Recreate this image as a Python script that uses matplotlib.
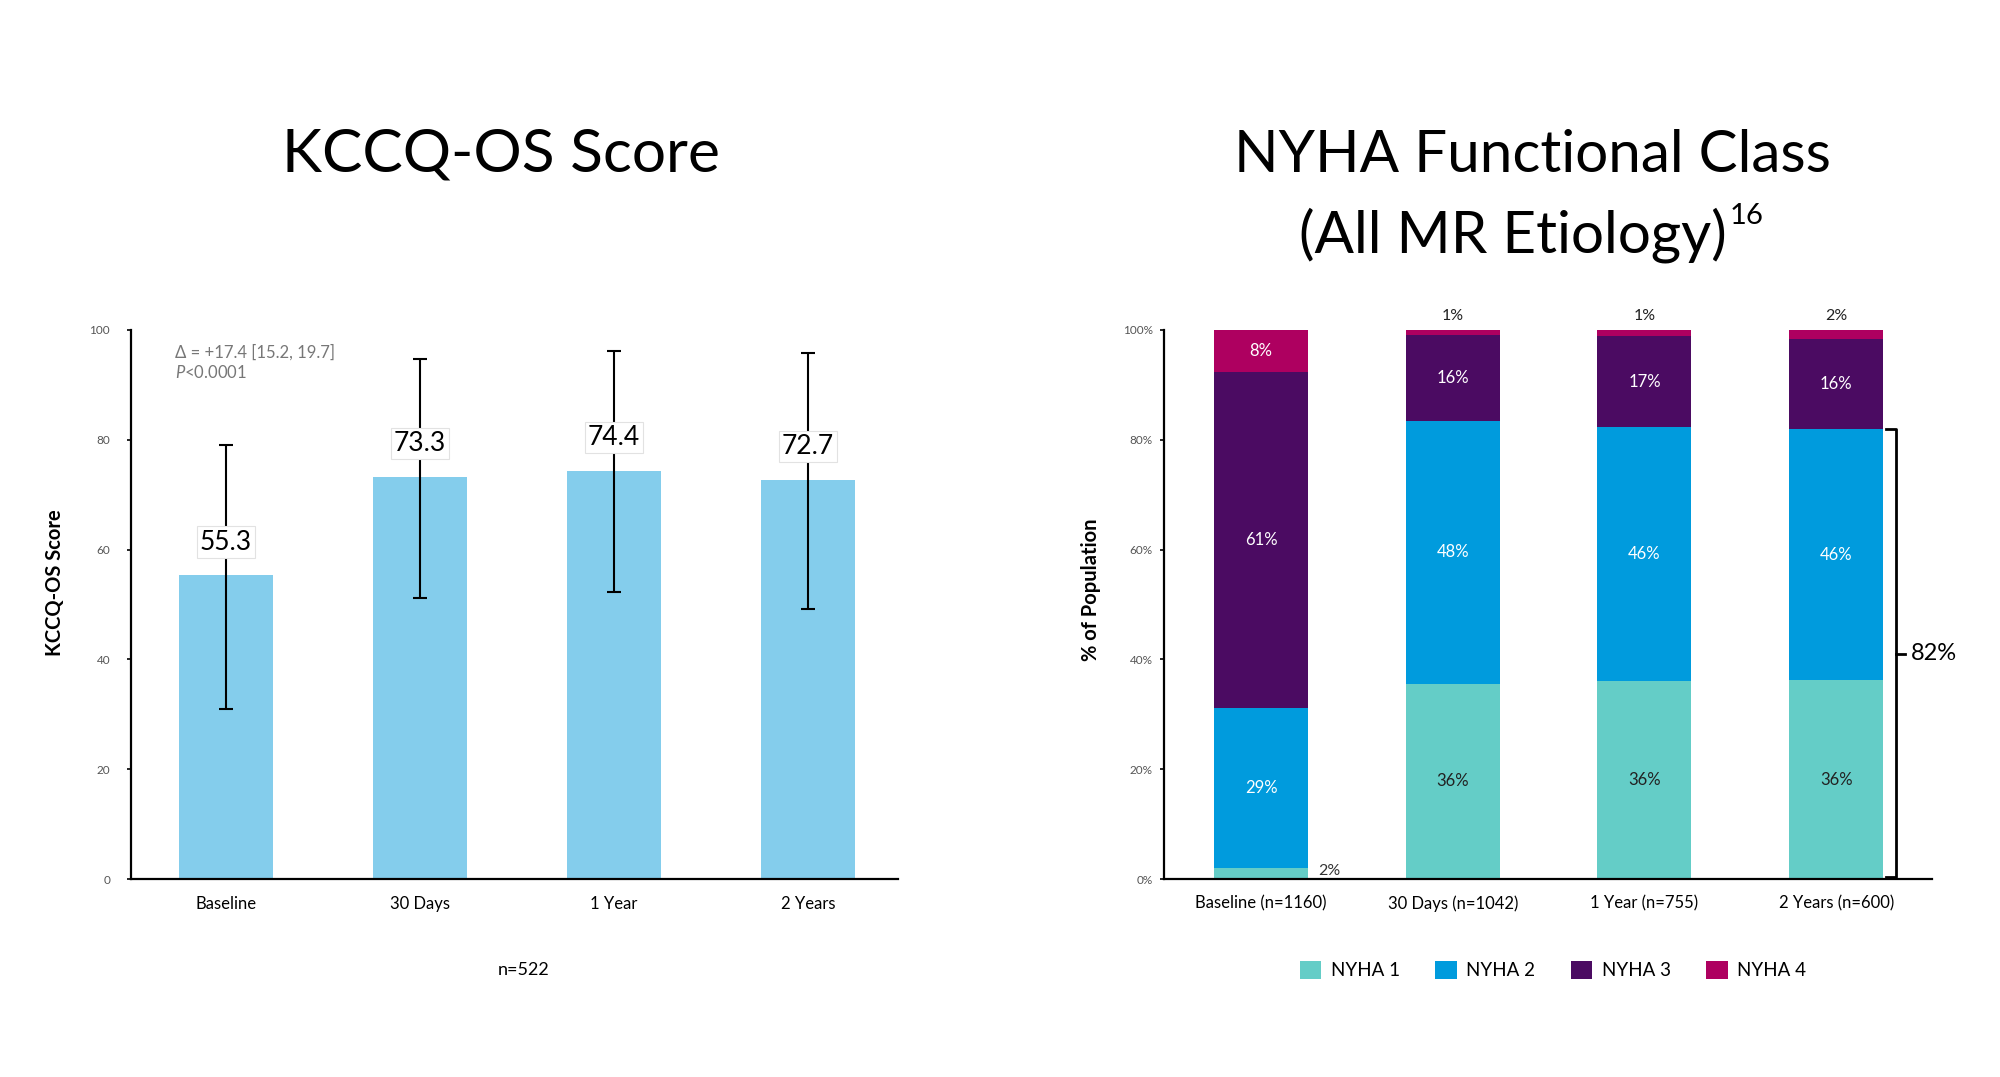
import matplotlib.pyplot as plt
import numpy as np
from matplotlib.patches import Patch

plt.rcParams["font.family"] = ["Lato", "DejaVu Sans"]
plt.rcParams["mathtext.fontset"] = "custom"
plt.rcParams["mathtext.rm"] = "Lato"
plt.rcParams["mathtext.it"] = "Lato:italic"

# KCCQ-OS panel
kccq_labels = ["Baseline", "30 Days", "1 Year", "2 Years"]
kccq_scores = [55.3, 73.3, 74.4, 72.7]
kccq_ci_low = [31.0, 51.2, 52.3, 49.1]
kccq_ci_high = [79.1, 94.8, 96.1, 95.8]

# NYHA panel (percent of population)
nyha_labels = ["Baseline (n=1160)", "30 Days (n=1042)", "1 Year (n=755)", "2 Years (n=600)"]
nyha_1 = [2.0, 35.6, 36.1, 36.2]
nyha_2 = [29.2, 47.8, 46.2, 45.8]
nyha_3 = [61.2, 15.6, 16.6, 16.4]
nyha_4 = [7.6, 1.0, 1.1, 1.6]
nyha_names = ["NYHA 1", "NYHA 2", "NYHA 3", "NYHA 4"]
nyha_colors = ["#64CDC7", "#009BDD", "#4B0B62", "#AE0060"]

fig = plt.figure(figsize=(20, 10.77), dpi=100)
ax1 = fig.add_axes([0.0655, 0.1838, 0.3835, 0.5098])
ax2 = fig.add_axes([0.582, 0.1838, 0.384, 0.5098])


def style_axis(ax, ypad):
    for side in ["top", "right"]:
        ax.spines[side].set_visible(False)
    ax.spines["left"].set_linewidth(1.6)
    ax.spines["bottom"].set_linewidth(1.6)
    ax.tick_params(axis="y", labelsize=8.5, labelcolor="#555555", length=3, width=1.2, pad=ypad)
    ax.tick_params(axis="x", labelsize=12, length=0, pad=12)
    ax.set_ylim(0, 100)


# ---- left: KCCQ-OS bars
x = np.arange(len(kccq_labels))
scores = np.array(kccq_scores)
ax1.bar(x, scores, width=0.485, color="#84CDEC", zorder=2)
yerr = [scores - np.array(kccq_ci_low), np.array(kccq_ci_high) - scores]
ax1.errorbar(x, scores, yerr=yerr, fmt="none", ecolor="black", elinewidth=1.5,
             capsize=5, capthick=1.5, zorder=3)
for xi, s in zip(x, scores):
    ax1.annotate(f"{s:.1f}", (xi, s), xytext=(0, 24), textcoords="offset points",
                 ha="center", va="center", fontsize=19, zorder=4,
                 bbox=dict(boxstyle="square,pad=0.12", fc="white", ec="#e2e2e2", lw=0.8))
style_axis(ax1, 12)
ax1.set_xlim(-0.49, 3.464)
ax1.set_xticks(x)
ax1.set_xticklabels(kccq_labels)
ax1.set_yticks([0, 20, 40, 60, 80, 100])
ax1.set_ylabel("KCCQ-OS Score", fontsize=14.5, fontweight="bold")
ax1.yaxis.set_label_coords(-0.086, 0.54)
ax1.text(-0.265, 96.0, "Δ = +17.4 [15.2, 19.7]", fontsize=12, color="#777777", va="center")
ax1.text(-0.265, 92.3, "$P$<0.0001", fontsize=12, color="#777777", va="center")

# ---- right: NYHA stacked bars
series = [np.array(nyha_1), np.array(nyha_2), np.array(nyha_3), np.array(nyha_4)]
bottom = np.zeros(len(nyha_labels))
for k, (vals, col) in enumerate(zip(series, nyha_colors)):
    ax2.bar(x, vals, bottom=bottom, width=0.49, color=col, zorder=2)
    for xi, v, b in zip(x, vals, bottom):
        lab = f"{v:.0f}%"
        if v < 5 and k == 0:
            ax2.text(xi + 0.3, b + v / 2 + 0.4, lab, fontsize=11.5, color="#333333",
                     ha="left", va="center")
        elif v < 5:
            ax2.text(xi, 102.6, lab, fontsize=11.5, color="#222222", ha="center", va="center")
        else:
            tc = "#222222" if k == 0 else "white"
            ax2.text(xi, b + v / 2, lab, fontsize=12, color=tc, ha="center", va="center")
    bottom = bottom + vals
style_axis(ax2, 5)
ax2.set_xlim(-0.506, 3.5)
ax2.set_xticks(x)
ax2.set_xticklabels(nyha_labels)
ax2.set_yticks([0, 20, 40, 60, 80, 100])
ax2.set_yticklabels([f"{t}%" for t in [0, 20, 40, 60, 80, 100]])
ax2.set_ylabel("% of Population", fontsize=14.5, fontweight="bold")
ax2.yaxis.set_label_coords(-0.082, 0.526)

# bracket for NYHA 1+2 at 2 years
top12 = nyha_1[-1] + nyha_2[-1]
bx = 3.31
ax2.plot([3.26, bx, bx, 3.26], [top12, top12, 0.4, 0.4], color="black", lw=2,
         clip_on=False, zorder=3)
ax2.plot([bx, 3.36], [top12 / 2, top12 / 2], color="black", lw=2, clip_on=False)
ax2.text(3.39, top12 / 2, f"{top12:.0f}%", fontsize=17, va="center", ha="left")

# ---- titles and footers
fig.text(0.2505, 0.8405, "KCCQ-OS Score", fontsize=43.5, ha="center", va="baseline")
fig.text(0.766, 0.8405, "NYHA Functional Class", fontsize=42, ha="center", va="baseline")
t2 = fig.text(0.7565, 0.766, "(All MR Etiology)", fontsize=42, ha="center", va="baseline")
fig.canvas.draw()
bb = t2.get_window_extent(fig.canvas.get_renderer())
fig.text(bb.x1 / fig.bbox.width + 0.0015, 0.792, "16", fontsize=21, ha="left", va="baseline")

fig.text(0.262, 0.0993, "n=522", fontsize=13, ha="center", va="center")

handles = [Patch(facecolor=c, label=n) for c, n in zip(nyha_colors, nyha_names)]
fig.legend(handles=handles, loc="center", bbox_to_anchor=(0.7765, 0.0993), ncol=4,
           frameon=False, fontsize=13.5, handlelength=1.15, handleheight=1.15,
           handletextpad=0.5, columnspacing=1.9)

fig.savefig("out.png", dpi=100)
